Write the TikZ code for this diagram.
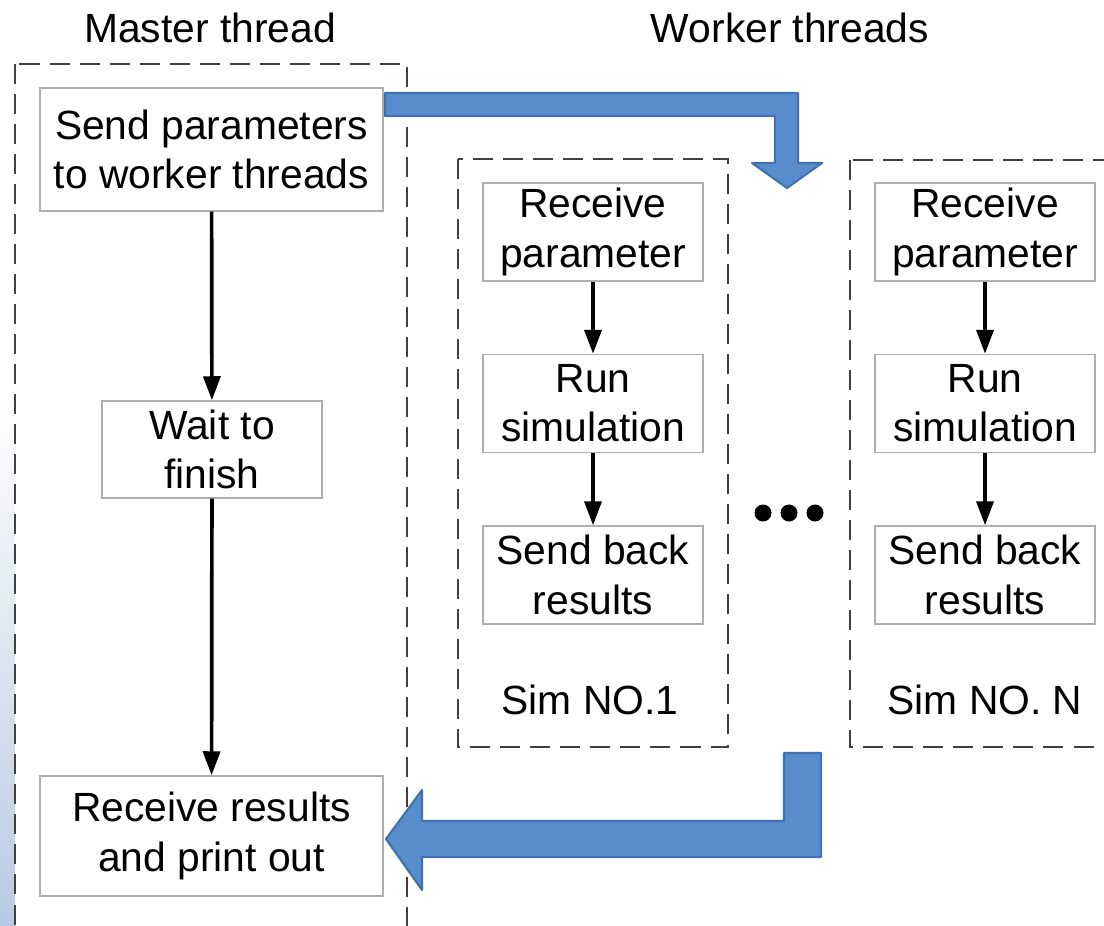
\documentclass[tikz,border=0pt]{standalone}
\usepackage{fontspec}
\setmainfont{Liberation Sans}
\usetikzlibrary{arrows.meta}
\definecolor{bleu}{RGB}{88,141,205}
\definecolor{bleufonce}{RGB}{66,113,176}
\definecolor{bord}{RGB}{175,175,175}
\definecolor{marge}{RGB}{184,202,226}
\begin{document}
\begin{tikzpicture}[
       x=0.01cm,
       y=-0.01cm,
       font=\fontsize{11.6}{14}\selectfont,
       etape/.style={
         rectangle,
         draw=bord,
         line width=0.4pt,
         align=center,
         inner sep=0pt,
         minimum width=2.2cm,
         minimum height=0.98cm
       },
       cadre/.style={
         draw=black!75,
         line width=0.45pt,
         dash pattern=on 0.2cm off 0.1cm
       },
       fleche/.style={
         -{Triangle[length=0.24cm,width=0.17cm]},
         line width=1.05pt
       },
       bloc/.style={
         fill=bleu,
         draw=bleufonce,
         line width=0.6pt,
         line join=round
       },
       point/.style={
         circle,
         fill=black,
         inner sep=0pt,
         minimum size=0.17cm
       }
     ]

       \useasboundingbox (0,0) rectangle (1104,925);
       \clip (0,0) rectangle (1104,925);
       \shade[top color=white,bottom color=marge] (0,400) rectangle (15,925);

       % frames
       \draw[cadre] (15,64) rectangle (407,960);
       \draw[cadre] (458,159) rectangle (728,747);
       \draw[cadre] (850,160) rectangle (1130,747);

       \node (tm) at (210,28) {Master thread};
       \node (tw) at (790,28) {Worker threads};

       \node (s) at (211.5,149.5) [etape,minimum width=3.43cm,minimum height=1.23cm]{Send parameters\\to worker threads};
       \node (w) at (212,449.5) [etape,minimum height=0.97cm]{Wait to\\finish};
       \node (r) at (211.5,836) [etape,minimum width=3.43cm,minimum height=1.2cm]{Receive results\\and print out};

       \node (a1) at (593,232) [etape]{Receive\\parameter};
       \node (b1) at (593,403.5) [etape]{Run\\simulation};
       \node (c1) at (593,575) [etape]{Send back\\results};
       \node (n1) at (590,700) {Sim NO.1};

       \node (aN) at (985,232) [etape]{Receive\\parameter};
       \node (bN) at (985,403.5) [etape]{Run\\simulation};
       \node (cN) at (985,575) [etape]{Send back\\results};
       \node (nN) at (985,700) {Sim NO. N};

       \node (d1) at (763,513) [point]{};
       \node (d2) at (789,513) [point]{};
       \node (d3) at (815,513) [point]{};

       \draw[fleche] (s) -- (w);
       \draw[fleche] (w) -- (r);

       \draw[fleche] (a1) -- (b1);
       \draw[fleche] (b1) -- (c1);
       \draw[fleche] (aN) -- (bN);
       \draw[fleche] (bN) -- (cN);

       % big arrows
       \draw[bloc] (385,93) -- (798,93) -- (798,163) -- (822,163) -- (787,188)
         -- (752,163) -- (775,163) -- (775,116) -- (385,116) -- cycle;
       \draw[bloc] (821,753) -- (821,857) -- (422,857) -- (422,890) -- (386,839)
         -- (422,790) -- (422,821) -- (784,821) -- (784,753) -- cycle;

\end{tikzpicture}
\end{document}
